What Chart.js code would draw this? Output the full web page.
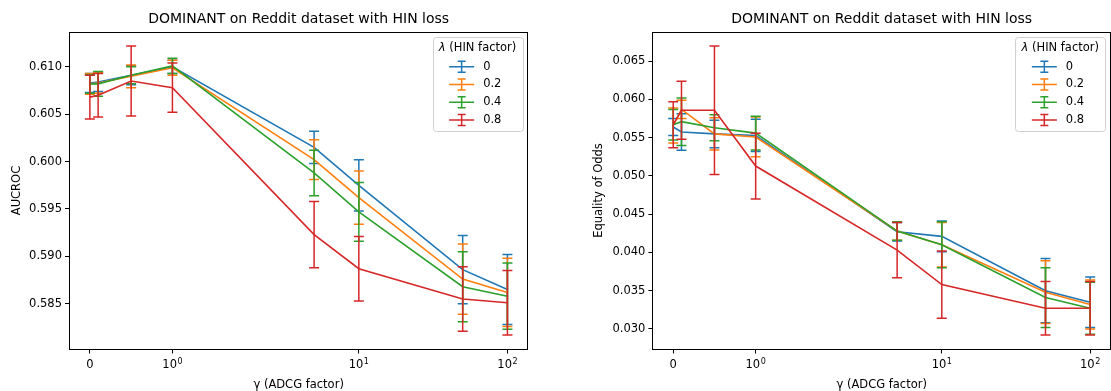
<!DOCTYPE html>
<html>
<head>
<meta charset="utf-8">
<script src="https://cdn.jsdelivr.net/npm/chart.js@4.4.0/dist/chart.umd.min.js"></script>
<style>
  html, body { margin: 0; padding: 0; background: #fff; }
  #wrap { position: relative; width: 1111px; height: 391px; overflow: hidden; }
  canvas { position: absolute; top: 0; }
  #auc { left: 0; }
  #eo { left: 556px; }
</style>
</head>
<body>
<div id="wrap">
  <canvas id="auc" width="556" height="391"></canvas>
  <canvas id="eo" width="555" height="391"></canvas>
</div>
<script>
'use strict';

// gamma (ADCG factor) sweep, one line per lambda (HIN factor)
const gammas = [0, 0.1, 0.5, 1, 5, 10, 50, 100];
const lambdaLabels = ['0', '0.2', '0.4', '0.8'];
const lambdaColors = ['#1f77b4', '#ff7f0e', '#2ca02c', '#d62728'];
// x ticks: value, base text, exponent
const xTickValues = [0, 1, 10, 100];
const xTickBases = ['0', '10', '10', '10'];
const xTickExps = ['', '0', '1', '2'];

// AUCROC mean / std
const aucL0 = [0.6083, 0.6084, 0.6091, 0.6100, 0.6015, 0.5975, 0.5886, 0.5865];
const aucL0Err = [0.0010, 0.0010, 0.0010, 0.0007, 0.0017, 0.0027, 0.0036, 0.0037];
const aucL2 = [0.6082, 0.6083, 0.6090, 0.6099, 0.6002, 0.5962, 0.5876, 0.5862];
const aucL2Err = [0.0011, 0.0011, 0.0012, 0.0008, 0.0021, 0.0028, 0.0037, 0.0036];
const aucL4 = [0.6082, 0.6082, 0.6091, 0.6101, 0.5988, 0.5947, 0.5868, 0.5858];
const aucL4Err = [0.0010, 0.0013, 0.0009, 0.0008, 0.0024, 0.0031, 0.0037, 0.0035];
const aucL8 = [0.6068, 0.6070, 0.6085, 0.6078, 0.5923, 0.5887, 0.5855, 0.5851];
const aucL8Err = [0.0023, 0.0023, 0.0037, 0.0026, 0.0035, 0.0034, 0.0034, 0.0034];

// Equality of Odds mean / std
const eoL0 = [0.0564, 0.05575, 0.0555, 0.0553, 0.0427, 0.0421, 0.0350, 0.0335];
const eoL0Err = [0.0011, 0.0024, 0.0018, 0.0021, 0.0012, 0.0020, 0.0042, 0.0033];
const eoL2 = [0.0566, 0.0587, 0.0555, 0.0551, 0.0428, 0.0410, 0.0348, 0.0332];
const eoL2Err = [0.0023, 0.0012, 0.0021, 0.0026, 0.0012, 0.0029, 0.0041, 0.0032];
const eoL4 = [0.0567, 0.0571, 0.0563, 0.0556, 0.0428, 0.0410, 0.0341, 0.0327];
const eoL4Err = [0.0020, 0.0031, 0.0017, 0.0022, 0.0012, 0.0030, 0.0039, 0.0034];
const eoL8 = [0.0567, 0.0586, 0.0586, 0.0513, 0.0403, 0.0358, 0.0327, 0.0327];
const eoL8Err = [0.0030, 0.0038, 0.0084, 0.0043, 0.0036, 0.0044, 0.0035, 0.0035];

const FONT = 'DejaVu Sans';
Chart.defaults.font.family = FONT;
Chart.defaults.color = '#000';

// symmetric log axis, linthresh 2, linscale 1
const LINTHRESH = 2;
const LINSCALE = 1 / (1 - 1 / 10);
function symlog(v) {
  const a = Math.abs(v);
  if (a <= LINTHRESH) return v * LINSCALE;
  return Math.sign(v) * LINTHRESH * (LINSCALE + Math.log10(a / LINTHRESH));
}

// box around the plot area
const framePlugin = {
  id: 'frame',
  afterDatasetsDraw(chart) {
    const { ctx, chartArea: a } = chart;
    const l = Math.round(a.left) + 0.5, r = Math.round(a.right) - 0.5;
    const t = Math.round(a.top) + 0.5, b = Math.round(a.bottom) - 0.5;
    ctx.save();
    ctx.strokeStyle = '#000';
    ctx.lineWidth = 1;
    ctx.strokeRect(l, t, r - l, b - t);
    ctx.restore();
  },
};

// x tick labels with raised exponents (10^n)
const powerTicksPlugin = {
  id: 'powerTicks',
  afterDraw(chart) {
    const { ctx } = chart;
    const xs = chart.scales.x;
    const base = '11.5px "' + FONT + '"';
    const sup = '8px "' + FONT + '"';
    const y = chart.chartArea.bottom + 18.5;
    ctx.save();
    ctx.fillStyle = '#000';
    ctx.textBaseline = 'alphabetic';
    ctx.textAlign = 'left';
    xTickValues.forEach((v, i) => {
      const x = xs.getPixelForValue(symlog(v));
      ctx.font = base;
      const bw = ctx.measureText(xTickBases[i]).width;
      ctx.font = sup;
      const ew = xTickExps[i] ? ctx.measureText(xTickExps[i]).width + 0.5 : 0;
      const x0 = x - (bw + ew) / 2;
      ctx.font = base;
      ctx.fillText(xTickBases[i], x0, y);
      if (ew) {
        ctx.font = sup;
        ctx.fillText(xTickExps[i], x0 + bw + 0.5, y - 3.8);
      }
    });
    ctx.restore();
  },
};

// vertical error bars with caps, drawn right after each line
const errorBarPlugin = {
  id: 'errorBars',
  afterDatasetDraw(chart, args) {
    const ds = chart.data.datasets[args.index];
    if (!ds.errors) return;
    const { ctx } = chart;
    const ys = chart.scales.y;
    const cap = 5;
    ctx.save();
    ctx.strokeStyle = ds.borderColor;
    ctx.lineWidth = 1.5;
    args.meta.data.forEach((pt, i) => {
      const v = ds.data[i].y;
      const top = ys.getPixelForValue(v + ds.errors[i]);
      const bot = ys.getPixelForValue(v - ds.errors[i]);
      ctx.beginPath();
      ctx.moveTo(pt.x, top); ctx.lineTo(pt.x, bot);
      ctx.moveTo(pt.x - cap, top); ctx.lineTo(pt.x + cap, top);
      ctx.moveTo(pt.x - cap, bot); ctx.lineTo(pt.x + cap, bot);
      ctx.stroke();
    });
    ctx.restore();
  },
};

// legend box in the upper right corner with errorbar handles
const legendPlugin = {
  id: 'errLegend',
  afterDraw(chart) {
    const { ctx, chartArea: a } = chart;
    const w = 90, h = 94, pad = 5.75;
    const right = a.right - pad, top = a.top + pad, left = right - w;
    ctx.save();
    ctx.beginPath();
    ctx.roundRect(Math.round(left) + 0.5, Math.round(top) + 0.5, w, h, 3);
    ctx.fillStyle = 'rgba(255,255,255,0.8)';
    ctx.fill();
    ctx.strokeStyle = '#d0d0d0';
    ctx.lineWidth = 1;
    ctx.stroke();

    // title: italic lambda then the rest
    ctx.fillStyle = '#000';
    ctx.textBaseline = 'middle';
    const italic = 'italic 11.5px "' + FONT + '"';
    const normal = '11.5px "' + FONT + '"';
    ctx.font = italic;
    const lw = ctx.measureText('λ').width;
    ctx.font = normal;
    const rest = ' (HIN factor)';
    const rw = ctx.measureText(rest).width;
    const tx = left + (w - lw - rw) / 2;
    const ty = top + 11;
    ctx.font = italic;
    ctx.fillText('λ', tx, ty);
    ctx.font = normal;
    ctx.fillText(rest, tx + lw, ty);

    chart.data.datasets.forEach((ds, i) => {
      const y = top + 29.4 + i * 17.8;
      const x0 = left + 16.6, x1 = left + 41.6, xc = (x0 + x1) / 2;
      ctx.strokeStyle = ds.borderColor;
      ctx.lineWidth = 1.5;
      ctx.beginPath();
      ctx.moveTo(x0, y); ctx.lineTo(x1, y);
      ctx.moveTo(xc, y - 5.5); ctx.lineTo(xc, y + 5.5);
      ctx.moveTo(xc - 4, y - 5.5); ctx.lineTo(xc + 4, y - 5.5);
      ctx.moveTo(xc - 4, y + 5.5); ctx.lineTo(xc + 4, y + 5.5);
      ctx.stroke();
      ctx.fillStyle = '#000';
      ctx.fillText(ds.label, left + 50.6, y);
    });
    ctx.restore();
  },
};

function makeChart(id, yTitle, means, errs, yAxisWidth, yTitlePad) {
  const datasets = means.map((m, k) => ({
    label: lambdaLabels[k],
    data: gammas.map((g, i) => ({ x: symlog(g), y: m[i] })),
    errors: errs[k],
    borderColor: lambdaColors[k],
    backgroundColor: lambdaColors[k],
    borderWidth: 1.6,
    pointRadius: 0,
    tension: 0,
    fill: false,
    order: means.length - 1 - k,
  }));

  // autoscale like matplotlib: data incl. error bars plus 5% margins
  let lo = Infinity, hi = -Infinity;
  means.forEach((m, k) => m.forEach((v, i) => {
    lo = Math.min(lo, v - errs[k][i]);
    hi = Math.max(hi, v + errs[k][i]);
  }));
  const ym = (hi - lo) * 0.05;
  const xa = symlog(gammas[0]), xb = symlog(gammas[gammas.length - 1]);
  const xm = (xb - xa) * 0.05;

  const tickFont = { size: 11.5 };
  const grid = { drawOnChartArea: false, drawTicks: true, tickLength: 4, tickColor: '#000', tickWidth: 1 };

  return new Chart(document.getElementById(id), {
    type: 'line',
    data: { datasets },
    options: {
      responsive: false,
      animation: false,
      events: [],
      layout: { padding: { top: 0, right: id === 'auc' ? 27.7 : 0, bottom: 0, left: 0 } },
      plugins: {
        legend: { display: false },
        tooltip: { enabled: false },
        title: {
          display: true,
          text: 'DOMINANT on Reddit dataset with HIN loss',
          font: { size: 14, weight: 'normal' },
          color: '#000',
          fullSize: false,
          padding: { top: 10.5, bottom: 4.2 },
        },
      },
      scales: {
        x: {
          type: 'linear',
          min: xa - xm,
          max: xb + xm,
          grid,
          border: { display: false },
          afterBuildTicks: (s) => { s.ticks = xTickValues.map(v => ({ value: symlog(v) })); },
          afterFit: (s) => { s.height = 41.5; },
          ticks: { display: false, autoSkip: false, maxRotation: 0 },
          title: {
            display: true,
            text: 'γ (ADCG factor)',
            color: '#000',
            font: { size: 11.5 },
            padding: { top: 0, bottom: -1 },
          },
        },
        y: {
          type: 'linear',
          min: lo - ym,
          max: hi + ym,
          grid,
          border: { display: false },
          afterFit: (s) => { s.width = yAxisWidth; },
          ticks: {
            stepSize: 0.005,
            includeBounds: false,
            padding: 3,
            color: '#000',
            font: tickFont,
            callback: (v) => v.toFixed(3),
          },
          title: {
            display: true,
            text: yTitle,
            color: '#000',
            font: { size: 11.5 },
            padding: { top: yTitlePad, bottom: 0 },
          },
        },
      },
    },
    plugins: [framePlugin, errorBarPlugin, powerTicksPlugin, legendPlugin],
  });
}

makeChart('auc', 'AUCROC',
  [aucL0, aucL2, aucL4, aucL8],
  [aucL0Err, aucL2Err, aucL4Err, aucL8Err],
  69, 9.8);

makeChart('eo', 'Equality of Odds',
  [eoL0, eoL2, eoL4, eoL8],
  [eoL0Err, eoL2Err, eoL4Err, eoL8Err],
  96.4, 36.1);
</script>
</body>
</html>
